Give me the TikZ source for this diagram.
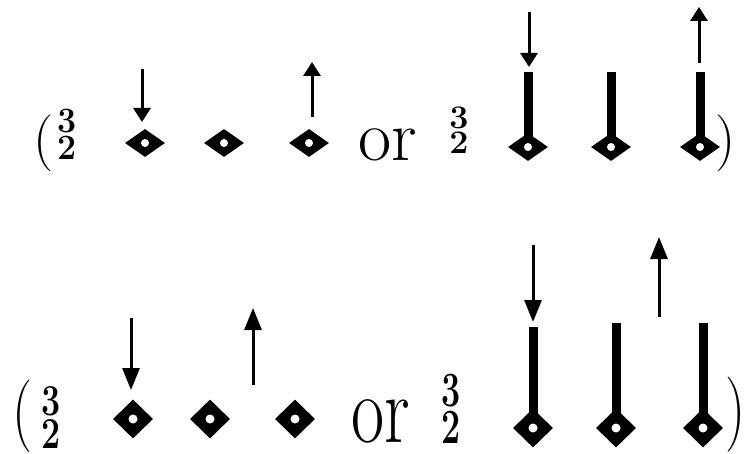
\documentclass[tikz,border=0pt]{standalone}
\usepackage{graphicx}
\usetikzlibrary{shapes.geometric,arrows.meta}
\begin{document}
\begin{tikzpicture}[x=1pt,y=-1pt,
  dia/.style={diamond,fill=black,inner sep=0pt,minimum width=40pt,minimum height=28pt},
  diab/.style={dia,minimum height=39pt},
  stemline/.style={line width=9pt},
  arrtop/.style={line width=3pt,-{Triangle[width=17pt,length=14pt]}},
  arrbot/.style={line width=3pt,-{Triangle[width=17pt,length=22pt]}},
  hole/.style={fill=white},
  txt/.style={inner sep=0pt,anchor=base},
  frac/.style={inner sep=0pt,font=\fontsize{34}{34}\selectfont\bfseries},
]
\useasboundingbox (0,0) rectangle (746,454);

% ---------- top row ----------
\node[txt] (lp1) at (44,157.75) {\fontsize{57}{57}\selectfont (};
\node[frac] (f1) at (67.5,134) {\scalebox{1}[1.05]{\shortstack{3\\2}}};
\node[dia] (t1) at (145,143) {};
\node[dia] (t2) at (224,143) {};
\node[dia] (t3) at (309,143) {};
\node[txt] (or1) at (387.5,161) {\fontsize{72}{72}\selectfont or};
\node[frac] (f2) at (459,130.5) {\scalebox{1}[0.97]{\shortstack{3\\2}}};
\node[dia] (t4) at (528,147) {};
\node[dia] (t5) at (611,147) {};
\node[dia] (t6) at (700,147) {};
\node[txt] (rp1) at (726,157.75) {\fontsize{57}{57}\selectfont )};

\coordinate (st4) at (528,72);
\coordinate (st5) at (611,72);
\coordinate (st6) at (700,72);
\draw[stemline] (st4) -- (t4.center);
\draw[stemline] (st5) -- (t5.center);
\draw[stemline] (st6) -- (t6.center);

\coordinate (a1s) at (142,69);  \coordinate (a1e) at (142,122);
\coordinate (a3s) at (312,117); \coordinate (a3e) at (312,62);
\coordinate (a4s) at (529,12);  \coordinate (a4e) at (529,67);
\coordinate (a6s) at (699,63);  \coordinate (a6e) at (699,7);
\draw[arrtop] (a1s) -- (a1e);
\draw[arrtop] (a3s) -- (a3e);
\draw[arrtop] (a4s) -- (a4e);
\draw[arrtop] (a6s) -- (a6e);

\foreach \n in {t1,t2,t3,t4,t5,t6}
  \fill[hole] (\n.center) circle (4pt);

% ---------- bottom row ----------
\node[txt] (lp2) at (22.5,434.7) {\fontsize{57}{57}\selectfont\scalebox{1}[1.28]{(}};
\node[frac] (f3) at (51,417.5) {\scalebox{1}[1.3]{\shortstack{3\\2}}};
\node[diab] (b1) at (133,419) {};
\node[diab] (b2) at (210,419) {};
\node[diab] (b3) at (295,419) {};
\node[txt] (or2) at (380.5,442) {\fontsize{72}{72}\selectfont\scalebox{1}[1.35]{or}};
\node[frac] (f4) at (451,409) {\scalebox{1}[1.45]{\shortstack{3\\2}}};
\node[diab] (b4) at (533,428) {};
\node[diab] (b5) at (616,428) {};
\node[diab] (b6) at (703,428) {};
\node[txt] (rp2) at (736,433) {\fontsize{57}{57}\selectfont\scalebox{1}[1.32]{)}};

\coordinate (sb4) at (533,327);
\coordinate (sb5) at (616,323);
\coordinate (sb6) at (703,323);
\draw[stemline] (sb4) -- (b4.center);
\draw[stemline] (sb5) -- (b5.center);
\draw[stemline] (sb6) -- (b6.center);

\coordinate (c1s) at (131,318); \coordinate (c1e) at (131,390);
\coordinate (c3s) at (253,385); \coordinate (c3e) at (253,308);
\coordinate (c4s) at (533,245); \coordinate (c4e) at (533,322);
\coordinate (c6s) at (659,317); \coordinate (c6e) at (659,237);
\draw[arrbot] (c1s) -- (c1e);
\draw[arrbot] (c3s) -- (c3e);
\draw[arrbot] (c4s) -- (c4e);
\draw[arrbot] (c6s) -- (c6e);

\foreach \n in {b1,b2,b3,b4,b5,b6}
  \fill[hole] (\n.center) circle (4.5pt);
\end{tikzpicture}
\end{document}
